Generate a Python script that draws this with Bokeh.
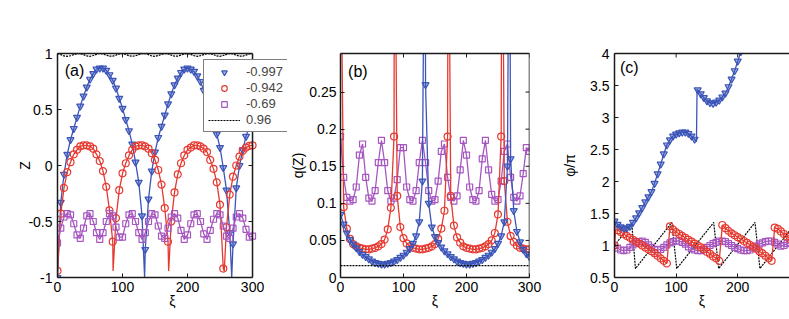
from math import pi
from bokeh.plotting import figure
from bokeh.models import (FixedTicker, Range1d, Legend, LegendItem, Label, Span, LinearAxis)
from bokeh.layouts import row
from bokeh.embed import file_html
from bokeh.resources import INLINE

# ---------------- data ----------------
xi = list(range(0, 301, 5))            # marker grid for panels (a), (b)
xi_c58 = list(range(0, 286, 5))        # marker grid for panel (c) red / purple
xi_c42 = list(range(0, 206, 5))        # marker grid for panel (c) blue

series_labels = ["-0.997", "-0.942", "-0.69", "0.96"]

# panel (a): Z
a_blue = [-1.0, -0.33, -0.08, 0.10, 0.23, 0.33, 0.43, 0.53, 0.62, 0.70,
          0.77, 0.82, 0.86, 0.87, 0.87, 0.85, 0.81, 0.76, 0.69, 0.60,
          0.51, 0.41, 0.31, 0.19, 0.03, -0.15, -0.45, -0.75, -0.30, -0.05,
          0.12, 0.25, 0.35, 0.45, 0.55, 0.64, 0.72, 0.78, 0.83, 0.86,
          0.87, 0.86, 0.84, 0.80, 0.75, 0.67, 0.58, 0.49, 0.39, 0.28,
          0.16, -0.02, -0.22, -0.60, -0.70, -0.20, 0.0, 0.14, 0.26, 0.35,
          0.45]
a_blue_dip_xi = [134, 268]
a_blue_dip = [-1.0, -1.0]

a_red = [-0.94, -0.43, -0.20, -0.06, 0.03, 0.10, 0.14, 0.17, 0.18, 0.18,
         0.17, 0.15, 0.10, 0.04, -0.05, -0.19, -0.40, -0.68, -0.47, -0.22,
         -0.07, 0.02, 0.09, 0.14, 0.17, 0.18, 0.18, 0.17, 0.15, 0.11,
         0.05, -0.04, -0.17, -0.38, -0.68, -0.50, -0.24, -0.08, 0.02, 0.09,
         0.14, 0.16, 0.18, 0.18, 0.17, 0.15, 0.12, 0.05, -0.03, -0.15,
         -0.35, -0.92, -0.55, -0.26, -0.10, 0.0, 0.08, 0.13, 0.16, 0.175,
         0.18]
a_red_dip_xi = [85.5, 171, 256.5]
a_red_dip = [-0.942, -0.942, -0.942]

a_purple = [-0.69, -0.56, -0.46, -0.43, -0.44, -0.52, -0.62, -0.65, -0.56, -0.45,
            -0.43, -0.50, -0.60, -0.66, -0.60, -0.50, -0.43, -0.45, -0.55, -0.64,
            -0.64, -0.52, -0.44, -0.43, -0.50, -0.60, -0.66, -0.60, -0.50, -0.43,
            -0.44, -0.54, -0.63, -0.65, -0.56, -0.46, -0.43, -0.47, -0.58, -0.66,
            -0.62, -0.52, -0.44, -0.43, -0.50, -0.61, -0.66, -0.58, -0.48, -0.43,
            -0.44, -0.54, -0.63, -0.65, -0.56, -0.46, -0.43, -0.47, -0.57, -0.64,
            -0.63]

a_black = [1.0, 0.99, 0.978, 0.975, 0.98, 0.99, 0.998, 0.998, 0.99, 0.978,
           0.975, 0.982, 0.992, 1.0, 0.996, 0.985, 0.976, 0.977, 0.986, 0.996,
           1.0, 0.992, 0.98, 0.975, 0.98, 0.99, 0.998, 0.998, 0.99, 0.978,
           0.975, 0.982, 0.992, 1.0, 0.996, 0.985, 0.976, 0.977, 0.986, 0.996,
           1.0, 0.992, 0.98, 0.975, 0.98, 0.99, 0.998, 0.998, 0.99, 0.978,
           0.975, 0.982, 0.992, 1.0, 0.996, 0.985, 0.976, 0.977, 0.986, 0.996,
           1.0]

# panel (b): q(Z)
b_blue = [0.085, 0.072, 0.060, 0.051, 0.045, 0.040, 0.035, 0.031, 0.028, 0.025,
          0.022, 0.020, 0.019, 0.018, 0.018, 0.019, 0.020, 0.022, 0.024, 0.027,
          0.030, 0.034, 0.039, 0.046, 0.056, 0.075, 0.13, 0.26, 0.10, 0.068,
          0.055, 0.047, 0.041, 0.036, 0.032, 0.028, 0.025, 0.022, 0.020, 0.019,
          0.018, 0.018, 0.019, 0.020, 0.022, 0.024, 0.027, 0.030, 0.034, 0.039,
          0.046, 0.056, 0.075, 0.15, 0.16, 0.09, 0.062, 0.048, 0.038, 0.032,
          0.028]
b_blue_spike_xi = [134, 268]
b_blue_spike = [0.6, 0.6]

b_red = [0.5, 0.095, 0.066, 0.052, 0.045, 0.042, 0.040, 0.039, 0.038, 0.038,
         0.039, 0.040, 0.042, 0.045, 0.051, 0.065, 0.094, 0.19, 0.11, 0.068,
         0.053, 0.046, 0.042, 0.040, 0.039, 0.038, 0.038, 0.039, 0.040, 0.042,
         0.045, 0.052, 0.066, 0.09, 0.19, 0.11, 0.07, 0.054, 0.047, 0.042,
         0.040, 0.039, 0.038, 0.038, 0.039, 0.040, 0.042, 0.045, 0.050, 0.060,
         0.085, 0.19, 0.13, 0.075, 0.056, 0.048, 0.043, 0.040, 0.039, 0.038,
         0.038]
b_red_spike_xi = [85.5, 171, 256.5]
b_red_spike = [0.6, 0.6, 0.6]

b_purple = [0.19, 0.135, 0.108, 0.103, 0.105, 0.122, 0.165, 0.18, 0.135, 0.107,
            0.103, 0.117, 0.155, 0.185, 0.155, 0.117, 0.103, 0.107, 0.132, 0.175,
            0.175, 0.122, 0.105, 0.103, 0.117, 0.155, 0.185, 0.155, 0.117, 0.103,
            0.105, 0.13, 0.17, 0.18, 0.135, 0.108, 0.103, 0.11, 0.145, 0.185,
            0.165, 0.122, 0.105, 0.103, 0.117, 0.16, 0.185, 0.145, 0.112, 0.103,
            0.105, 0.13, 0.17, 0.18, 0.135, 0.108, 0.103, 0.11, 0.14, 0.175,
            0.17]

b_black_xi = [0, 300]
b_black = [0.016, 0.016]

# panel (c): phi/pi
c_blue = [1.38, 1.33, 1.29, 1.27, 1.27, 1.30, 1.36, 1.43, 1.51, 1.59,
          1.68, 1.76, 1.84, 1.97, 2.12, 2.27, 2.43, 2.57, 2.65, 2.71,
          2.74, 2.76, 2.77, 2.77, 2.75, 2.71, 2.66, 3.43, 3.37, 3.31,
          3.26, 3.23, 3.22, 3.24, 3.27, 3.32, 3.38, 3.48, 3.60, 3.73,
          3.88, 4.03]
c_blue_jump_xi = [133, 134]
c_blue_jump = [2.62, 3.44]

c_red = [1.0, 1.24, 1.21, 1.18, 1.15, 1.12, 1.09, 1.06, 1.03, 1.0,
         0.97, 0.94, 0.91, 0.88, 0.84, 0.80, 0.76, 0.72, 1.30, 1.25,
         1.21, 1.18, 1.15, 1.12, 1.09, 1.06, 1.03, 1.0, 0.97, 0.94,
         0.90, 0.87, 0.83, 0.80, 0.76, 1.32, 1.27, 1.23, 1.19, 1.16,
         1.13, 1.10, 1.07, 1.04, 1.01, 0.98, 0.95, 0.91, 0.88, 0.84,
         0.80, 0.76, 1.28, 1.26, 1.22, 1.18, 1.14, 1.10]
c_red_jump_xi = [2]
c_red_jump = [1.26]

c_purple = [1.0, 0.96, 0.93, 0.92, 0.93, 0.97, 1.01, 1.04, 1.06, 1.07,
            1.05, 1.01, 0.97, 0.94, 0.93, 0.94, 0.97, 1.01, 1.04, 1.06,
            1.07, 1.07, 1.05, 1.02, 0.98, 0.95, 0.93, 0.92, 0.92, 0.94,
            0.97, 1.0, 1.03, 1.05, 1.07, 1.07, 1.06, 1.03, 1.0, 0.97,
            0.95, 0.93, 0.92, 0.92, 0.93, 0.96, 0.99, 1.02, 1.04, 1.06,
            1.07, 1.07, 1.05, 1.02, 0.99, 1.0, 1.03, 1.05]

c_black_xi = [0, 28, 34, 93, 101, 161, 169, 228, 236, 295]
c_black = [1.0, 1.35, 0.64, 1.36, 0.64, 1.36, 0.64, 1.36, 0.64, 1.36]

x_ticks = [0, 100, 200, 300]
x_tick_labels = ["0", "100", "200", "300"]
a_ticks = [-1, -0.5, 0, 0.5, 1]
a_tick_labels = ["-1", "-0.5", "0", "0.5", "1"]
b_ticks = [0, 0.05, 0.1, 0.15, 0.2, 0.25]
b_tick_labels = ["0", "0.05", "0.1", "0.15", "0.2", "0.25"]
c_ticks = [0.5, 1, 1.5, 2, 2.5, 3, 3.5, 4]
c_tick_labels = ["0.5", "1", "1.5", "2", "2.5", "3", "3.5", "4"]

# ---------------- style ----------------
FONT = "Liberation Sans"
BLUE = "#3b55b8"
RED = "#e6392f"
PURPLE = "#a656c0"
BLACK = "#000000"
FRAME = "#1a1a1a"
DOT = "2 1"


def merge(xm, ym, xs, ys):
    pts = sorted(list(zip(xm, ym)) + list(zip(xs, ys)))
    return [p[0] for p in pts], [p[1] for p in pts]


def style_axis(ax, ticks, labels):
    ax.ticker = FixedTicker(ticks=ticks)
    ax.major_label_overrides = {t: l for t, l in zip(ticks, labels)}
    ax.major_tick_in = 4
    ax.major_tick_out = 0
    ax.major_tick_line_color = FRAME
    ax.major_tick_line_width = 1
    ax.minor_tick_line_color = None
    ax.axis_line_color = FRAME
    ax.axis_line_width = 1.5
    ax.major_label_text_font = FONT
    ax.major_label_text_color = "black"
    ax.major_label_text_font_size = "14px"
    ax.major_label_standoff = 5
    ax.axis_label_text_font = FONT
    ax.axis_label_text_font_size = "14px"
    ax.axis_label_text_font_style = "normal"
    ax.axis_label_text_color = "black"


def make_fig(width, mbl, mbr, xend, xbox, yr, yticks, ylabels, ylab, ystand,
             ylab_tick_standoff=5, right_edge=True):
    """xend: end of the x range of the frame; xbox: x where the drawn box ends."""
    p = figure(width=width, height=319, x_range=Range1d(0, xend), y_range=Range1d(*yr),
               output_backend="svg", toolbar_location=None,
               min_border_left=mbl, min_border_right=mbr,
               min_border_top=53, min_border_bottom=42)
    p.grid.visible = False
    p.background_fill_color = "white"
    p.border_fill_color = "white"
    p.outline_line_color = None
    xa = p.xaxis[0]
    style_axis(xa, x_ticks, x_tick_labels)
    xa.bounds = (0, xbox)
    xa.major_label_standoff = 4
    xa.axis_label = "ξ"
    xa.axis_label_standoff = -2
    ya = p.yaxis[0]
    style_axis(ya, yticks, ylabels)
    ya.major_label_standoff = ylab_tick_standoff
    ya.axis_label = ylab
    ya.axis_label_standoff = ystand
    top = LinearAxis(ticker=FixedTicker(ticks=[]), bounds=(0, xbox),
                     axis_line_color=FRAME, axis_line_width=1.5,
                     major_tick_line_color=None, minor_tick_line_color=None)
    p.add_layout(top, "above")
    # inward tick marks on the top edge
    p.ray(x=x_ticks, y=[yr[1]] * len(x_ticks), length=4, length_units="screen",
          angle=-pi / 2, line_color=FRAME, line_width=1)
    if right_edge:
        p.add_layout(Span(location=xbox, dimension="height", line_color=FRAME, line_width=1.5))
        p.ray(x=[xbox] * len(yticks), y=yticks, length=4, length_units="screen",
              angle=pi, line_color=FRAME, line_width=1)
    return p


def add_series(p, xm, ym, xs, ys, color, marker, size, fill_alpha):
    lx, ly = merge(xm, ym, xs, ys)
    p.line(lx, ly, line_color=color, line_width=1.3)
    r = p.scatter(xm, ym, marker=marker, size=size, line_color=color, line_width=1.2,
                  fill_color=color, fill_alpha=fill_alpha)
    return r


# ---------------- panel (a) ----------------
p1 = make_fig(287, 57, 0, 353.8, 300, (-1, 1), a_ticks, a_tick_labels, "Z", -8)
rb = add_series(p1, xi, a_blue, a_blue_dip_xi, a_blue_dip, BLUE, "inverted_triangle", 7, 0.45)
rr = add_series(p1, xi, a_red, a_red_dip_xi, a_red_dip, RED, "circle", 7, 0.0)
rp = add_series(p1, xi, a_purple, [], [], PURPLE, "square", 6, 0.0)
rk = p1.line(xi, a_black, line_color=BLACK, line_width=1.2, line_dash=DOT)
p1.add_layout(Label(x=11, y=0.92, text="(a)", text_baseline="top", text_font=FONT,
                    text_font_size="16px", text_color="black"))
legend = Legend(items=[LegendItem(label=series_labels[0], renderers=[rb]),
                       LegendItem(label=series_labels[1], renderers=[rr]),
                       LegendItem(label=series_labels[2], renderers=[rp]),
                       LegendItem(label=series_labels[3], renderers=[rk])],
                location=(146, 145), orientation="vertical",
                border_line_color="black", border_line_width=1.5,
                background_fill_color="white", background_fill_alpha=1.0,
                label_text_font=FONT, label_text_font_size="13px",
                glyph_width=32, glyph_height=14, label_height=14, label_standoff=6,
                spacing=1, padding=4, margin=0)
p1.add_layout(legend)

# ---------------- panel (b) ----------------
p2 = make_fig(272, 48, 30, 300, 300, (0, 0.302), b_ticks, b_tick_labels, "q(Z)", 0,
              ylab_tick_standoff=4)
add_series(p2, xi, b_purple, [], [], PURPLE, "square", 6, 0.0)
add_series(p2, xi, b_red, b_red_spike_xi, b_red_spike, RED, "circle", 7, 0.0)
add_series(p2, xi, b_blue, b_blue_spike_xi, b_blue_spike, BLUE, "inverted_triangle", 7, 0.45)
p2.line(b_black_xi, b_black, line_color=BLACK, line_width=1.2, line_dash=DOT)
p2.add_layout(Label(x=12, y=0.289, text="(b)", text_baseline="top", text_font=FONT,
                    text_font_size="16px", text_color="black"))

# ---------------- panel (c) ----------------
p3 = make_fig(230, 48, 0, 284, 284, (0.5, 4), c_ticks, c_tick_labels, "φ/π", 9,
              right_edge=False)
p3.line(c_black_xi, c_black, line_color=BLACK, line_width=1.2, line_dash=DOT)
add_series(p3, xi_c58, c_purple, [], [], PURPLE, "square", 6, 0.0)
add_series(p3, xi_c58, c_red, c_red_jump_xi, c_red_jump, RED, "circle", 7, 0.0)
add_series(p3, xi_c42, c_blue, c_blue_jump_xi, c_blue_jump, BLUE, "inverted_triangle", 7, 0.45)
p3.add_layout(Label(x=9, y=3.92, text="(c)", text_baseline="top", text_font=FONT,
                    text_font_size="16px", text_color="black"))

layout = row(p1, p2, p3)
open("out.html", "w").write(file_html(layout, INLINE))
